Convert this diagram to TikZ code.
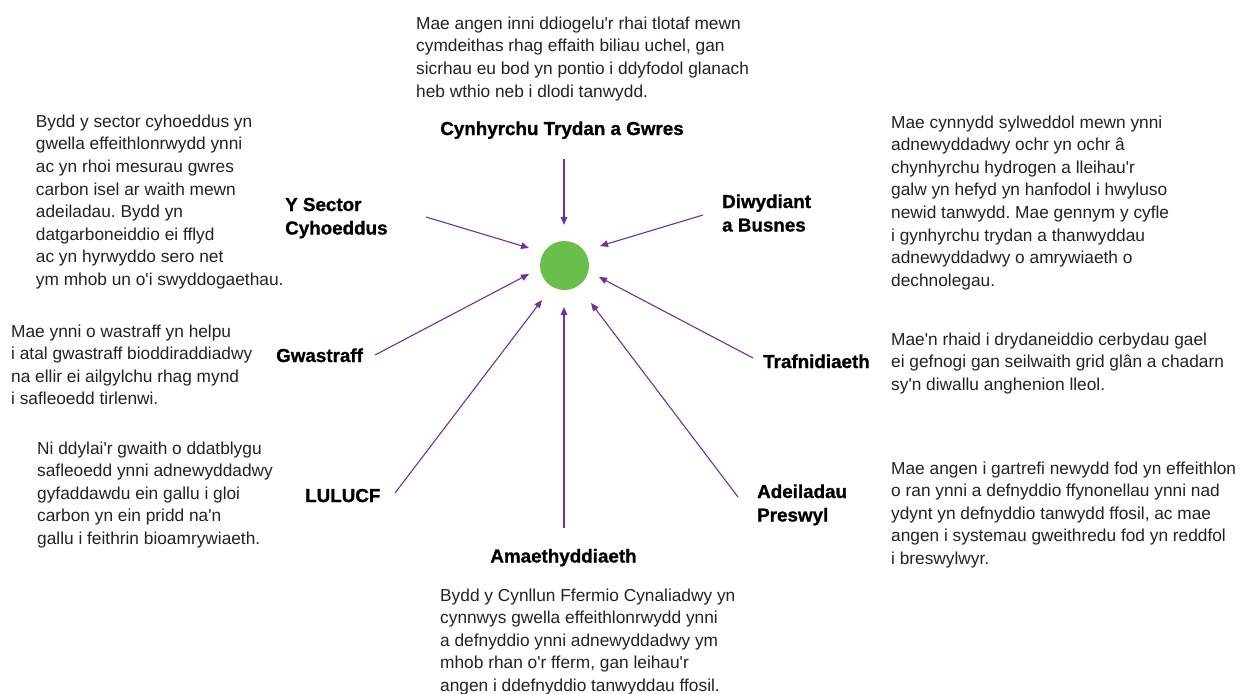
\documentclass[tikz,border=0pt]{standalone}
\usepackage{fontspec}
\setmainfont{Liberation Sans}
\newfontfamily\heavyfam{Liberation Sans Bold}[FakeBold=1]
\usetikzlibrary{arrows.meta}
\definecolor{arrowpurple}{RGB}{112,48,160}
\definecolor{dotgreen}{RGB}{106,190,75}
\definecolor{bodygray}{RGB}{34,34,34}
\newcommand\bodyfont{\fontsize{17.3}{22.6}\selectfont\frenchspacing}
\newcommand\labfont{\heavyfam\fontsize{18.8}{23.5}\selectfont}
\newcommand\ap{\textquotesingle}
\newcommand\lstack[1]{\vtop{\halign{##\hfil\cr#1\crcr}}}
\begin{document}
\begin{tikzpicture}[x=1pt,y=-1pt,
  para/.style={anchor=base west,inner sep=0pt,font=\bodyfont,text=bodygray},
  lab/.style={anchor=base west,inner sep=0pt,font=\labfont,text=black},
  labc/.style={anchor=base,inner sep=0pt,font=\labfont,text=black},
  feed/.style={draw=arrowpurple,line width=1.1pt,-{Triangle[length=8pt,width=6.5pt]}}]
\useasboundingbox (0,0) rectangle (1252,693);

% hub
\node[circle,fill=dotgreen,minimum size=49pt,inner sep=0pt] (hub) at (564.5,265.5) {};

% labels
\node[labc] (elec) at (562,135) {Cynhyrchu Trydan a Gwres};
\node[lab] (pub) at (285,211) {\lstack{Y Sector\cr Cyhoeddus}};
\node[lab] (ind) at (722,208) {\lstack{Diwydiant\cr a Busnes}};
\node[lab] (waste) at (276,362) {Gwastraff};
\node[lab] (trans) at (763,368) {Trafnidiaeth};
\node[lab] (lulucf) at (305,502) {LULUCF};
\node[lab] (res) at (757,498) {\lstack{Adeiladau\cr Preswyl}};
\node[labc] (agri) at (563.5,562.5) {Amaethyddiaeth};

% paragraphs
\node[para] (pelec) at (416,29.3) {\lstack{Mae angen inni ddiogelu\ap r rhai tlotaf mewn\cr
cymdeithas rhag effaith biliau uchel, gan\cr
sicrhau eu bod yn pontio i ddyfodol glanach\cr
heb wthio neb i dlodi tanwydd.}};

\node[para] (ppub) at (35.7,127.3) {\lstack{Bydd y sector cyhoeddus yn\cr
gwella effeithlonrwydd ynni\cr
ac yn rhoi mesurau gwres\cr
carbon isel ar waith mewn\cr
adeiladau. Bydd yn\cr
datgarboneiddio ei fflyd\cr
ac yn hyrwyddo sero net\cr
ym mhob un o\ap i swyddogaethau.}};

\node[para] (pwaste) at (11,337) {\lstack{Mae ynni o wastraff yn helpu\cr
i atal gwastraff bioddiraddiadwy\cr
na ellir ei ailgylchu rhag mynd\cr
i safleoedd tirlenwi.}};

\node[para] (plulucf) at (37,454) {\lstack{Ni ddylai\ap r gwaith o ddatblygu\cr
safleoedd ynni adnewyddadwy\cr
gyfaddawdu ein gallu i gloi\cr
carbon yn ein pridd na\ap n\cr
gallu i feithrin bioamrywiaeth.}};

\node[para] (pind) at (891,128) {\lstack{Mae cynnydd sylweddol mewn ynni\cr
adnewyddadwy ochr yn ochr â\cr
chynhyrchu hydrogen a lleihau\ap r\cr
galw yn hefyd yn hanfodol i hwyluso\cr
newid tanwydd. Mae gennym y cyfle\cr
i gynhyrchu trydan a thanwyddau\cr
adnewyddadwy o amrywiaeth o\cr
dechnolegau.}};

\node[para] (ptrans) at (891,345) {\lstack{Mae\ap n rhaid i drydaneiddio cerbydau gael\cr
ei gefnogi gan seilwaith grid glân a chadarn\cr
sy\ap n diwallu anghenion lleol.}};

\node[para] (pres) at (891,474) {\lstack{Mae angen i gartrefi newydd fod yn effeithlon\cr
o ran ynni a defnyddio ffynonellau ynni nad\cr
ydynt yn defnyddio tanwydd ffosil, ac mae\cr
angen i systemau gweithredu fod yn reddfol\cr
i breswylwyr.}};

\node[para] (pagri) at (440,601) {\lstack{Bydd y Cynllun Ffermio Cynaliadwy yn\cr
cynnwys gwella effeithlonrwydd ynni\cr
a defnyddio ynni adnewyddadwy ym\cr
mhob rhan o\ap r fferm, gan leihau\ap r\cr
angen i ddefnyddio tanwyddau ffosil.}};

% connector end points
\coordinate (s-elec) at (564,159);   \coordinate (e-elec) at (564,225);
\coordinate (s-pub) at (426,217);    \coordinate (e-pub) at (529,248);
\coordinate (s-ind) at (703,215);    \coordinate (e-ind) at (600,246);
\coordinate (s-waste) at (375,355);  \coordinate (e-waste) at (529,274);
\coordinate (s-trans) at (753,358);  \coordinate (e-trans) at (599,277);
\coordinate (s-lulucf) at (395,493); \coordinate (e-lulucf) at (542,300);
\coordinate (s-agri) at (564,528);   \coordinate (e-agri) at (564,307);
\coordinate (s-res) at (738,497);    \coordinate (e-res) at (591,303);

\foreach \k in {elec,pub,ind,waste,trans,lulucf,agri,res}
  \draw[feed] (s-\k) -- (e-\k);
\end{tikzpicture}
\end{document}
